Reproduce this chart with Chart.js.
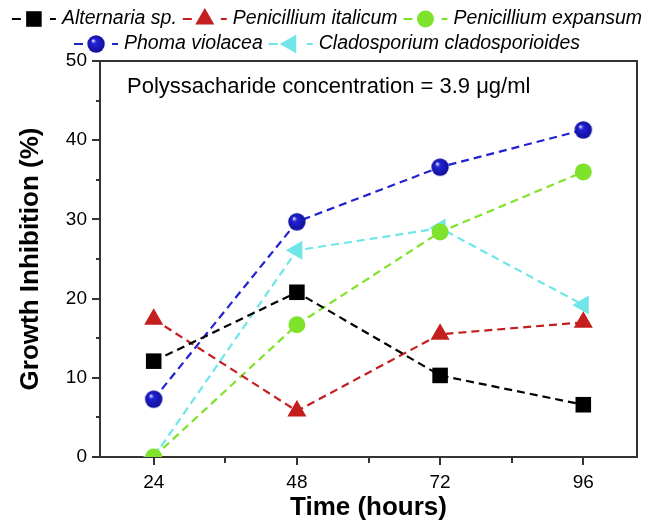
<!DOCTYPE html>
<html><head><meta charset="utf-8">
<script src="https://cdn.jsdelivr.net/npm/chart.js@4.4.1/dist/chart.umd.min.js"></script>
<style>html,body{margin:0;padding:0;background:#fff}</style>
</head><body>
<canvas id="c" width="654" height="523"></canvas>
<script>
// ---- data ----
const hours = [24, 48, 72, 96];
const alternaria = [12.1, 20.8, 10.3, 6.6];
const penItalicum = [17.4, 5.8, 15.5, 17.0];
const penExpansum = [0, 16.7, 28.4, 36.0];
const phoma = [7.3, 29.7, 36.6, 41.3];
const cladosporium = [0, 26.1, 28.9, 19.2];
const seriesNames = ['Alternaria sp.', 'Penicillium italicum', 'Penicillium expansum', 'Phoma violacea', 'Cladosporium cladosporioides'];
const xTickLabels = [24, 48, 72, 96];
const yTickLabels = [0, 10, 20, 30, 40, 50];
const annotationText = 'Polyssacharide concentration = 3.9 \u03bcg/ml';

// ---- styles ----
const FONT = '"Liberation Sans", Arial, sans-serif';

function sphere(r, base, light) {
  const c = document.createElement('canvas');
  const s = Math.ceil(r * 2) + 2;
  c.width = s; c.height = s;
  const g = c.getContext('2d');
  const cx = s / 2, cy = s / 2;
  const grad = g.createRadialGradient(cx - r * 0.35, cy - r * 0.4, r * 0.05, cx, cy, r);
  grad.addColorStop(0, light);
  grad.addColorStop(0.25, base);
  grad.addColorStop(1, '#10109a');
  g.fillStyle = grad;
  g.beginPath(); g.arc(cx, cy, r, 0, Math.PI * 2); g.fill();
  return c;
}
const blueSphere = sphere(8.7, '#2323d8', '#d8d8ff');

const styles = [
  {color: '#000000', point: 'rect', r: 11, rot: 0},
  {color: '#c41e1e', point: 'triangle', r: 11, rot: 0},
  {color: '#7fe32c', point: 'circle', r: 8.5, rot: 0},
  {color: '#2222d2', point: blueSphere, r: 8.7, rot: 0},
  {color: '#70e6e8', point: 'triangle', r: 11, rot: -90}
];
const seriesValues = [alternaria, penItalicum, penExpansum, phoma, cladosporium];

const datasets = seriesValues.map((vals, i) => ({
  label: seriesNames[i],
  data: hours.map((h, j) => ({x: h, y: vals[j]})),
  borderColor: styles[i].color,
  backgroundColor: styles[i].color,
  pointBackgroundColor: styles[i].color,
  pointBorderColor: styles[i].color,
  pointBorderWidth: 0,
  pointStyle: styles[i].point,
  pointRadius: styles[i].r,
  pointRotation: styles[i].rot,
  pointHoverRadius: styles[i].r,
  borderWidth: 2.2,
  borderDash: [8, 5],
  tension: 0,
  fill: false,
  clip: 0
}));

const legendRows = [[0, 1, 2], [3, 4]];

const framePlugin = {
  id: 'frame',
  beforeDatasetsDraw(chart) {
    const {ctx, chartArea: a} = chart;
    const xs = chart.scales.x, ys = chart.scales.y;
    ctx.save();
    ctx.strokeStyle = '#333';
    ctx.lineWidth = 2;
    ctx.strokeRect(a.left, a.top, a.right - a.left, a.bottom - a.top);
    ctx.beginPath();
    ys.ticks.forEach(t => {
      const y = Math.round(ys.getPixelForValue(t.value));
      const len = yTickLabels.includes(t.value) ? 8 : 4;
      ctx.moveTo(a.left - len, y); ctx.lineTo(a.left, y);
    });
    xs.ticks.forEach(t => {
      const x = Math.round(xs.getPixelForValue(t.value));
      const len = xTickLabels.includes(t.value) ? 8 : 6;
      ctx.moveTo(x, a.bottom); ctx.lineTo(x, a.bottom + len);
    });
    ctx.stroke();
    // annotation
    ctx.fillStyle = '#000';
    ctx.font = '22px ' + FONT;
    ctx.textBaseline = 'middle';
    ctx.textAlign = 'left';
    ctx.fillText(annotationText, a.left + 27, a.top + 26);
    ctx.restore();
  },
  afterDraw(chart) {
    const {ctx} = chart;
    const ds = chart.data.datasets;
    ctx.save();
    ctx.font = 'italic 19.5px ' + FONT;
    ctx.textBaseline = 'middle';
    const rowY = [19, 44];
    const textOff = 50, gap = 6;
    legendRows.forEach((row, ri) => {
      const widths = row.map(i => textOff + ctx.measureText(ds[i].label).width);
      const total = widths.reduce((s, w) => s + w, 0) + gap * (row.length - 1);
      let x = (chart.width - total) / 2;
      const y = rowY[ri];
      row.forEach((i, k) => {
        const d = ds[i];
        ctx.strokeStyle = d.borderColor;
        ctx.lineWidth = 2.2;
        ctx.beginPath();
        ctx.moveTo(x, y); ctx.lineTo(x + 9, y);
        ctx.moveTo(x + 38, y); ctx.lineTo(x + 44, y);
        ctx.stroke();
        ctx.fillStyle = d.pointBackgroundColor;
        Chart.helpers.drawPoint(ctx, {pointStyle: d.pointStyle, rotation: d.pointRotation, radius: d.pointRadius, borderWidth: 0}, x + 22, y);
        ctx.fillStyle = '#000';
        ctx.fillText(d.label, x + textOff, y);
        x += widths[k] + gap;
      });
    });
    ctx.restore();
  }
};

new Chart(document.getElementById('c'), {
  type: 'line',
  data: {datasets},
  options: {
    responsive: false,
    animation: false,
    events: [],
    layout: {padding: {top: 61, right: 17, left: 0, bottom: 0}},
    plugins: {legend: {display: false}, tooltip: {enabled: false}},
    scales: {
      x: {
        type: 'linear', min: 15, max: 105,
        grid: {display: false, drawTicks: false},
        border: {display: false},
        ticks: {
          stepSize: 12, includeBounds: false, autoSkip: false, maxRotation: 0,
          padding: 14, color: '#000', font: {family: FONT, size: 19},
          callback: v => xTickLabels.includes(v) ? String(v) : ''
        },
        title: {display: true, text: 'Time (hours)', color: '#000', font: {family: FONT, size: 26, weight: 'bold'}, padding: {top: 0, bottom: 0}},
        afterFit(s) { s.height = 66; }
      },
      y: {
        min: 0, max: 50,
        grid: {display: false, drawTicks: false},
        border: {display: false},
        ticks: {
          stepSize: 5, autoSkip: false, padding: 13, color: '#000', font: {family: FONT, size: 19},
          callback: v => yTickLabels.includes(v) ? String(v) : ''
        },
        title: {display: true, text: 'Growth Inhibition (%)', color: '#000', font: {family: FONT, size: 26, weight: 'bold'}, padding: {top: 15, bottom: 0}},
        afterFit(s) { s.width = 100; }
      }
    }
  },
  plugins: [framePlugin]
});
</script>
</body></html>
